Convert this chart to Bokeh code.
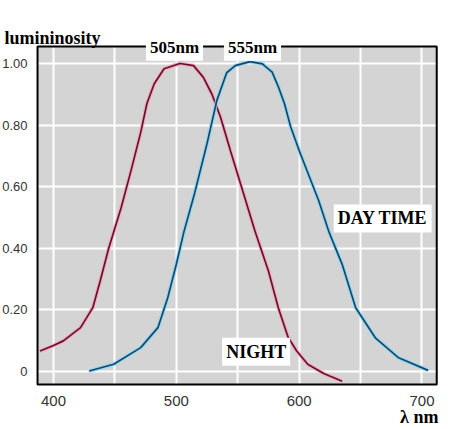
from bokeh.embed import file_html
from bokeh.models import BoxAnnotation, FixedTicker, Label, PrintfTickFormatter
from bokeh.plotting import figure
from bokeh.resources import INLINE

# scotopic (night) and photopic (day) luminosity curves
night_nm = [389, 400, 408, 422, 432, 438, 445, 455, 463, 471, 476, 482, 490, 503,
            514, 522, 529, 536, 544, 556, 564, 575, 583, 591, 598, 607, 620, 635]
night_lum = [0.065, 0.083, 0.098, 0.141, 0.206, 0.293, 0.40, 0.53, 0.65, 0.776, 0.869, 0.934, 0.983, 1.0,
             0.993, 0.955, 0.90, 0.825, 0.717, 0.56, 0.455, 0.325, 0.206, 0.11, 0.065, 0.022, -0.008, -0.033]

day_nm = [429, 449, 471, 485, 493, 500, 506, 515, 525, 533, 541, 548, 560, 570,
          578, 583, 588, 593, 600, 616, 624, 635, 646, 662, 681, 705]
day_lum = [0.0, 0.022, 0.076, 0.141, 0.238, 0.347, 0.45, 0.58, 0.74, 0.88, 0.97, 0.993, 1.006, 0.999,
           0.972, 0.925, 0.87, 0.795, 0.717, 0.553, 0.455, 0.347, 0.206, 0.108, 0.043, 0.002]

x_ticks = [400, 500, 600, 700]
x_grid = [400, 450, 500, 550, 600, 650, 700]
y_ticks = [0, 0.2, 0.4, 0.6, 0.8, 1.0]

# edges of the shaded chart box
x_lo, x_hi = 387, 712
y_lo, y_hi = -0.044, 1.055

serif = "Liberation Serif"
sans = "Liberation Sans"

# the frame fills the whole canvas so that nothing gets clipped;
# the chart box itself is drawn as an annotation
p = figure(
    width=450,
    height=429,
    x_range=(356.85, 723.21),
    y_range=(-0.1902, 1.2049),
    output_backend="svg",
    toolbar_location=None,
    min_border=0,
)

p.background_fill_color = "white"
p.border_fill_color = "white"
p.outline_line_color = None

p.add_layout(BoxAnnotation(left=x_lo, right=x_hi, bottom=y_lo, top=y_hi,
                           fill_color="#d4d4d4", fill_alpha=1, line_color=None, level="image"))

p.xgrid.ticker = FixedTicker(ticks=x_grid)
p.ygrid.ticker = FixedTicker(ticks=y_ticks)
p.grid.grid_line_color = "white"
p.grid.grid_line_width = 2
p.grid.grid_line_alpha = 1

p.xaxis.fixed_location = y_lo
p.yaxis.fixed_location = x_lo
p.xaxis.ticker = FixedTicker(ticks=x_ticks)
p.yaxis.ticker = FixedTicker(ticks=y_ticks)
p.yaxis.formatter = PrintfTickFormatter(format="%.2f")
p.yaxis.major_label_overrides = {0: "0"}
p.axis.axis_line_color = None
p.axis.major_tick_line_color = None
p.axis.minor_tick_line_color = None
p.axis.major_label_text_font = sans
p.axis.major_label_text_color = "#333333"
p.xaxis.major_label_text_font_size = "15px"
p.yaxis.major_label_text_font_size = "13px"
p.xaxis.major_label_standoff = 5
p.yaxis.major_label_standoff = 4

# light halo under each curve, then the dark line
p.line(night_nm, night_lum, line_color="#f2a6bc", line_width=4, line_alpha=0.8)
p.line(night_nm, night_lum, line_color="#6a0f2c", line_width=1.7)
p.line(day_nm, day_lum, line_color="#86d9f2", line_width=4, line_alpha=0.8)
p.line(day_nm, day_lum, line_color="#16466d", line_width=1.7)

p.add_layout(BoxAnnotation(left=x_lo, right=x_hi, bottom=y_lo, top=y_hi,
                           fill_color=None, line_color="black", line_alpha=1, line_width=2))


def add_text(x, y, text, size, align="center", baseline="middle", box=False):
    lab = Label(
        x=x, y=y, text=text,
        text_font=serif, text_font_style="bold", text_font_size=size,
        text_color="black", text_align=align, text_baseline=baseline,
    )
    if box:
        lab.background_fill_color = "white"
        lab.padding = 4
    p.add_layout(lab)


add_text(498.5, 1.053, "505nm", "17px", box=True)
add_text(562, 1.053, "555nm", "17px", box=True)
add_text(668, 0.496, "DAY TIME", "18px", box=True)
add_text(565, 0.063, "NIGHT", "18px", box=True)
add_text(360.1, 1.0823, "lumininosity", "18px", align="left", baseline="alphabetic")
add_text(713.4, -0.1502, "λ nm", "18px", align="right", baseline="alphabetic")

open("out.html", "w").write(file_html(p, INLINE))
